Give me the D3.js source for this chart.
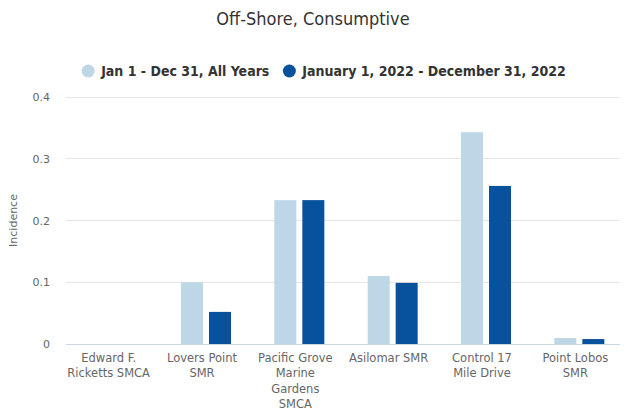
<!DOCTYPE html>
<html><head><meta charset="utf-8">
<script src="https://cdn.jsdelivr.net/npm/d3@7"></script>
<style>body{margin:0;background:#fff}svg{display:block}</style>
</head><body>
<script>
const categories = [["Edward F.","Ricketts SMCA"],["Lovers Point","SMR"],["Pacific Grove","Marine","Gardens","SMCA"],["Asilomar SMR"],["Control 17","Mile Drive"],["Point Lobos","SMR"]];
const seriesNames = ["Jan 1 - Dec 31, All Years","January 1, 2022 - December 31, 2022"];
const allYears = [0, 0.10, 0.233, 0.110, 0.343, 0.0097];
const year2022 = [0, 0.052, 0.233, 0.099, 0.256, 0.008];
const yTicks = [0, 0.1, 0.2, 0.3, 0.4];
const colors = ["#bdd7e7", "#08519c"];

const W = 626, H = 412;
const svg = d3.select("body").append("svg").attr("width", W).attr("height", H);
const font = "'DejaVu Sans', sans-serif";
const condensed = "'DejaVu Sans Condensed', 'DejaVu Sans', sans-serif";
const pLeft = 66, pRight = 626, pTop = 97, pBottom = 344;

const x = d3.scaleBand().domain(d3.range(categories.length)).range([pLeft, pRight]).paddingInner(0).paddingOuter(0);
const y = d3.scaleLinear().domain([0, 0.4]).range([pBottom, pTop]);
const inner = d3.scaleBand().domain([0,1]).range([0, x.bandwidth()]).paddingInner(0.214).paddingOuter(0.774);

// grid
svg.append("g").selectAll("line").data(yTicks).join("line")
  .attr("x1", pLeft).attr("x2", 620).attr("y1", d => y(d)).attr("y2", d => y(d))
  .attr("stroke", "#e6e6e6").attr("stroke-width", 1).attr("shape-rendering","crispEdges");

// y tick labels
svg.append("g").selectAll("text").data(yTicks).join("text")
  .attr("x", 50).attr("y", d => y(d) + 4).attr("text-anchor", "end")
  .attr("font-family", font).attr("font-size", 11).attr("fill", "#666")
  .text(d => d === 0 ? "0" : d3.format(".1f")(d));

// y title
svg.append("text").attr("transform", `translate(17,${(pTop+pBottom)/2}) rotate(-90)`)
  .attr("text-anchor", "middle").attr("font-family", font).attr("font-size", 11).attr("fill", "#666")
  .text("Incidence");

// bars
const series = [allYears, year2022];
series.forEach((vals, si) => {
  svg.append("g").selectAll("rect").data(vals).join("rect")
    .attr("x", (d, i) => x(i) + inner(si))
    .attr("width", inner.bandwidth())
    .attr("y", d => y(d))
    .attr("height", d => pBottom - y(d))
    .attr("fill", colors[si]);
});

// x axis line
svg.append("line").attr("x1", pLeft).attr("x2", 620).attr("y1", pBottom + 0.5).attr("y2", pBottom + 0.5)
  .attr("stroke", "#ccd6eb");

// x labels
const xl = svg.append("g").selectAll("text").data(categories).join("text")
  .attr("x", (d, i) => x(i) + x.bandwidth()/2 - 4)
  .attr("y", 362)
  .attr("text-anchor", "middle").attr("font-family", font).attr("font-size", 11.5).attr("fill", "#666");
xl.each(function(lines){
  d3.select(this).selectAll("tspan").data(lines).join("tspan")
    .attr("x", d3.select(this).attr("x")).attr("dy", (d, j) => j === 0 ? 0 : 15.3).text(d => d);
});

// title
svg.append("text").attr("x", 313).attr("y", 25).attr("text-anchor", "middle")
  .attr("font-family", condensed).attr("font-size", 18).attr("fill", "#333").text("Off-Shore, Consumptive");

// legend
const lg = svg.append("g").attr("font-family", condensed)
  .attr("font-size", 14).attr("font-weight", "bold").attr("fill", "#333");
let lx = 0;
seriesNames.forEach((n, i) => {
  lg.append("circle").attr("cx", lx + 6).attr("cy", 71).attr("r", 6.5).attr("fill", colors[i]);
  const t = lg.append("text").attr("x", lx + 19).attr("y", 76).text(n);
  lx += 19 + t.node().getComputedTextLength() + 14;
});
const total = lx - 14;
lg.attr("transform", `translate(${324 - total/2},0)`);
</script>
</body></html>
